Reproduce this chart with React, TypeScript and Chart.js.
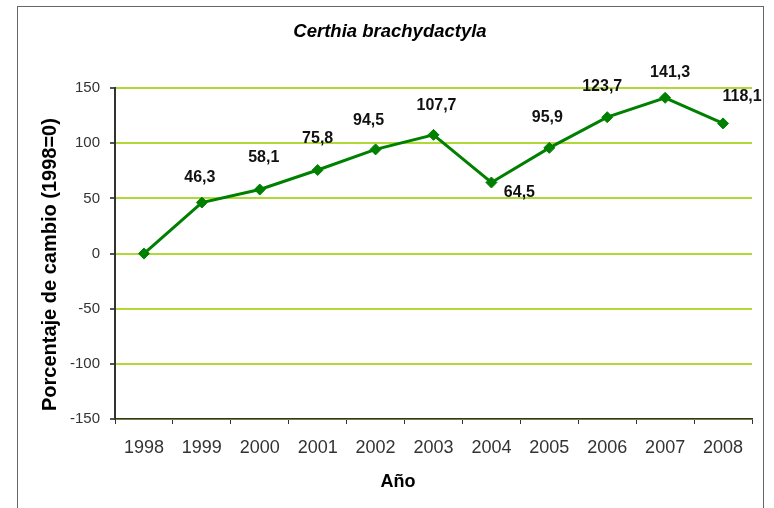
import React, { useEffect, useRef } from "react";
import { Chart, registerables } from "chart.js";

Chart.register(...registerables);

// ---- data ----
const years = ["1998", "1999", "2000", "2001", "2002", "2003", "2004", "2005", "2006", "2007", "2008"];
const values = [0, 46.3, 58.1, 75.8, 94.5, 107.7, 64.5, 95.9, 123.7, 141.3, 118.1];
const yMin = -150;
const yMax = 150;
const yStep = 50;
const chartTitle = "Certhia brachydactyla";
const xTitle = "Año";
const yTitle = "Porcentaje de cambio (1998=0)";
// label offsets (dx, dy) from each point, as placed in the original
const labelOffsets: [number, number][] = [
  [0, 0], [-2, -25], [4, -32], [0, -31], [-7, -29], [3, -29],
  [28, 10], [-2, -30], [-5, -31], [5, -25], [19, -27],
];

const FONT = '"Liberation Sans", Arial, Helvetica, sans-serif';

const pointLabels = {
  id: "pointLabels",
  afterDatasetsDraw(chart: any) {
    const meta = chart.getDatasetMeta(0);
    const ctx = chart.ctx;
    ctx.save();
    ctx.font = `bold 16px ${FONT}`;
    ctx.fillStyle = "#111";
    ctx.textAlign = "center";
    ctx.textBaseline = "middle";
    meta.data.forEach((pt: any, i: number) => {
      const v = values[i];
      if (v === 0) return; // base year carries no label
      const [dx, dy] = labelOffsets[i];
      ctx.fillText(v.toFixed(1).replace(".", ","), pt.x + dx, pt.y + dy);
    });
    ctx.restore();
  },
};

const axisTitles = {
  id: "axisTitles",
  afterDraw(chart: any) {
    const ctx = chart.ctx;
    const a = chart.chartArea;
    ctx.save();
    ctx.fillStyle = "#000";
    ctx.textAlign = "center";
    ctx.textBaseline = "middle";
    ctx.font = `bold 18px ${FONT}`;
    ctx.fillText(xTitle, 398, 482);
    ctx.translate(50, (a.top + a.bottom) / 2 + 11);
    ctx.rotate(-Math.PI / 2);
    ctx.font = `bold 20px ${FONT}`;
    ctx.fillText(yTitle, 0, 0);
    ctx.restore();
  },
};

export default function App() {
  const ref = useRef<HTMLCanvasElement>(null);
  useEffect(() => {
    if (!ref.current) return;
    const chart = new Chart(ref.current, {
      type: "line",
      data: {
        labels: years,
        datasets: [
          {
            data: values,
            borderColor: "#008000",
            backgroundColor: "#008000",
            borderWidth: 3,
            pointStyle: "rectRot",
            pointRadius: 5.5,
            pointBorderWidth: 1,
            pointBackgroundColor: "#008000",
            pointBorderColor: "#008000",
            tension: 0,
            fill: false,
          },
        ],
      },
      options: {
        responsive: false,
        animation: false,
        devicePixelRatio: 1,
        layout: { padding: { left: 28, right: 22, top: 0, bottom: 0 } },
        plugins: {
          legend: { display: false },
          tooltip: { enabled: false },
          title: {
            display: true,
            text: chartTitle,
            color: "#000",
            font: { family: FONT, size: 18.5, weight: "bold", style: "italic" },
            padding: { top: 21, bottom: 45 },
          },
        },
        scales: {
          x: {
            offset: true,
            grid: {
              offset: true,
              drawOnChartArea: false,
              drawTicks: true,
              tickLength: 5,
              tickColor: "#333",
            },
            border: { color: "#333", width: 1.5 },
            ticks: {
              color: "#333",
              font: { family: FONT, size: 18 },
              padding: 13,
              maxRotation: 0,
              autoSkip: false,
            },
            afterFit(scale: any) {
              scale.height = 89;
            },
          },
          y: {
            min: yMin,
            max: yMax,
            grid: {
              color: "#B0D838",
              lineWidth: 2,
              tickLength: 5,
              tickColor: "#555",
            },
            border: { color: "#333", width: 2 },
            ticks: {
              stepSize: yStep,
              color: "#333",
              font: { family: FONT, size: 15 },
              padding: 10,
            },
            afterFit(scale: any) {
              scale.width = 87;
            },
          },
        },
      },
      plugins: [pointLabels, axisTitles],
    });
    return () => chart.destroy();
  }, []);

  return (
    <div
      style={{
        position: "fixed",
        left: 0,
        top: 0,
        width: 774,
        height: 508,
        overflow: "hidden",
        background: "#fff",
      }}
    >
      <div
        style={{
          position: "absolute",
          left: 17,
          top: 6,
          width: 745,
          height: 600,
          border: "1px solid #666",
        }}
      />
      <canvas ref={ref} width={774} height={508} style={{ position: "absolute", left: 0, top: 0 }} />
    </div>
  );
}
